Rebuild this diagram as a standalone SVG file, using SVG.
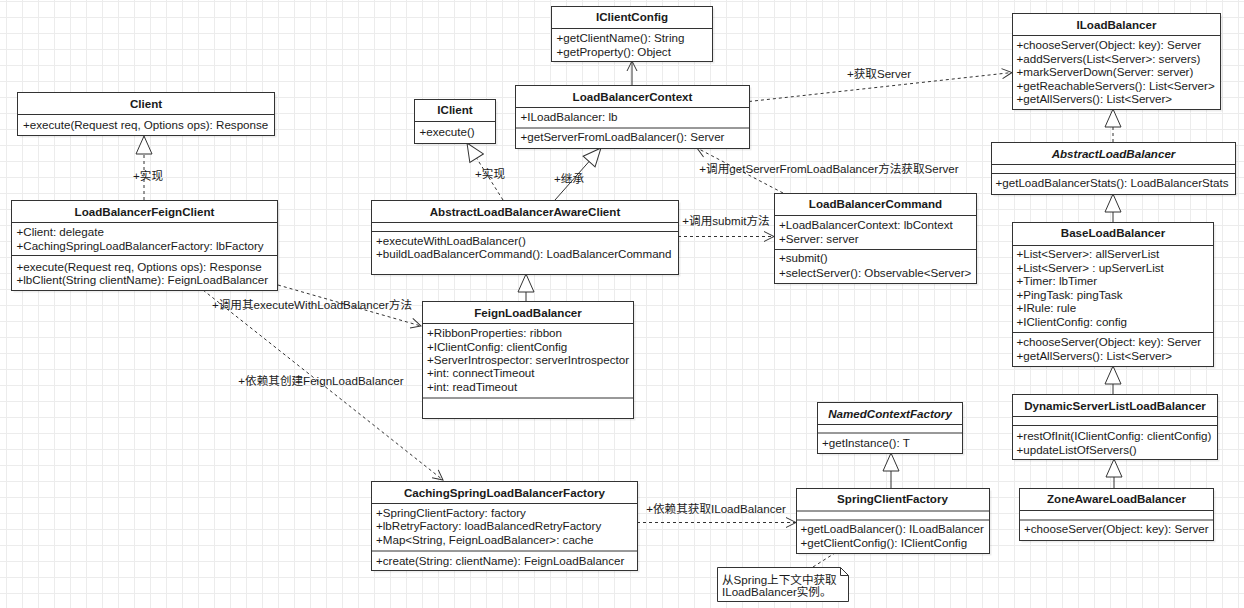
<svg xmlns="http://www.w3.org/2000/svg" width="1244" height="608" viewBox="0 0 1244 608">
<defs>
<style>
.box{fill:#fff;stroke:#333;stroke-width:1}
.sh{fill:#000;opacity:0.07}
.dv{stroke:#333;stroke-width:1}
.t{font-family:"Liberation Sans",Arial,"Noto Sans CJK SC",sans-serif;font-size:11.6px;fill:#1a1a1a}
.h{font-weight:bold;text-anchor:middle}
.i{font-style:italic}
.solid{stroke:#333;stroke-width:1;fill:none}
.dash{stroke:#333;stroke-width:1;fill:none;stroke-dasharray:3 3}
.lbl{text-anchor:middle}
</style>
<pattern id="grid" patternUnits="userSpaceOnUse" x="6" y="1" width="16" height="16">
<path d="M0.5,0 V16 M0,0.5 H16" stroke="#ececec" stroke-width="1" fill="none"/>
</pattern>
<marker id="tri" markerUnits="userSpaceOnUse" viewBox="-1 -1 20 18" refX="18" refY="8" markerWidth="20" markerHeight="18" orient="auto">
<path d="M0,0 L18,8 L0,16 Z" fill="#fff" stroke="#333" stroke-width="1"/>
</marker>
<marker id="open" markerUnits="userSpaceOnUse" viewBox="-1 -1 12 12" refX="10" refY="5" markerWidth="12" markerHeight="12" orient="auto">
<path d="M0,0 L10,5 L0,10" fill="none" stroke="#333" stroke-width="1"/>
</marker>
</defs>
<rect width="1244" height="608" fill="#fff"/>
<rect width="1244" height="608" fill="url(#grid)"/>

<g id="connectors">
<path class="dash" d="M144,200 L144,136" marker-end="url(#tri)"/>
<text class="t lbl" x="148" y="180">+实现</text>
<path class="dash" d="M503,200 L467,143" marker-end="url(#tri)"/>
<text class="t lbl" x="490" y="178">+实现</text>
<path class="solid" d="M555,200 L601,148" marker-end="url(#tri)"/>
<text class="t lbl" x="569" y="183">+继承</text>
<path class="dash" d="M278,285 L421,326" marker-end="url(#open)"/>
<text class="t lbl" x="312" y="309">+调用其executeWithLoadBalancer方法</text>
<path class="dash" d="M203,290 L443,480" marker-end="url(#open)"/>
<text class="t lbl" x="321" y="385">+依赖其创建FeignLoadBalancer</text>
<path class="solid" d="M526,301 L526,274" marker-end="url(#tri)"/>
<path class="dash" d="M678,236.5 L774,236.5" marker-end="url(#open)"/>
<text class="t lbl" x="726" y="225">+调用submit方法</text>
<path class="dash" d="M783,193 L697,148" marker-end="url(#open)"/>
<text class="t lbl" x="829" y="173">+调用getServerFromLoadBalancer方法获取Server</text>
<path class="solid" d="M632,85 L632,61" marker-end="url(#open)"/>
<path class="dash" d="M749,101.5 L1012,72.5" marker-end="url(#open)"/>
<text class="t lbl" x="879" y="78">+获取Server</text>
<path class="dash" d="M1113,142 L1113,109" marker-end="url(#tri)"/>
<path class="solid" d="M1113,222 L1113,194" marker-end="url(#tri)"/>
<path class="solid" d="M1113,394 L1113,366" marker-end="url(#tri)"/>
<path class="solid" d="M1114,488 L1114,459" marker-end="url(#tri)"/>
<path class="dash" d="M637,522.5 L796,522.5" marker-end="url(#open)"/>
<text class="t lbl" x="716" y="513">+依赖其获取ILoadBalancer</text>
<path class="solid" d="M891,488 L891,453" marker-end="url(#tri)"/>
<path class="dash" d="M813,567 L835,553"/>
</g>

<g id="Client">
<rect class="sh" x="19.5" y="94.5" width="257" height="43"/>
<rect class="box" x="17.5" y="92.5" width="257" height="43"/>
<line class="dv" x1="17.5" y1="114.5" x2="274.5" y2="114.5"/>
<text class="t h" x="146" y="107.5">Client</text>
<text class="t" x="23" y="128.5">+execute(Request req, Options ops): Response</text>
</g>

<g id="LoadBalancerFeignClient">
<rect class="sh" x="13.5" y="202.5" width="266" height="90"/>
<rect class="box" x="11.5" y="200.5" width="266" height="90"/>
<line class="dv" x1="11.5" y1="222.5" x2="277.5" y2="222.5"/>
<line class="dv" x1="11.5" y1="255.5" x2="277.5" y2="255.5"/>
<text class="t h" x="144.5" y="215.5">LoadBalancerFeignClient</text>
<text class="t" x="16.5" y="236">+Client: delegate</text>
<text class="t" x="16.5" y="249.5">+CachingSpringLoadBalancerFactory: lbFactory</text>
<text class="t" x="16.5" y="270.5">+execute(Request req, Options ops): Response</text>
<text class="t" x="16.5" y="284">+lbClient(String clientName): FeignLoadBalancer</text>
</g>

<g id="IClientConfig">
<rect class="sh" x="553.5" y="8.5" width="161" height="55"/>
<rect class="box" x="551.5" y="6.5" width="161" height="55"/>
<line class="dv" x1="551.5" y1="28.5" x2="712.5" y2="28.5"/>
<text class="t h" x="632" y="21">IClientConfig</text>
<text class="t" x="556.5" y="42.3">+getClientName(): String</text>
<text class="t" x="556.5" y="55.7">+getProperty(): Object</text>
</g>

<g id="LoadBalancerContext">
<rect class="sh" x="517.5" y="87.5" width="234" height="63"/>
<rect class="box" x="515.5" y="85.5" width="234" height="63"/>
<line class="dv" x1="515.5" y1="107.5" x2="749.5" y2="107.5"/>
<line class="dv" x1="515.5" y1="128" x2="749.5" y2="128"/>
<text class="t h" x="632.5" y="100.5">LoadBalancerContext</text>
<text class="t" x="520.5" y="121.3">+ILoadBalancer: lb</text>
<text class="t" x="520.5" y="141.3">+getServerFromLoadBalancer(): Server</text>
</g>

<g id="IClient">
<rect class="sh" x="416.5" y="101.5" width="81" height="44"/>
<rect class="box" x="414.5" y="99.5" width="81" height="44"/>
<line class="dv" x1="414.5" y1="121.5" x2="495.5" y2="121.5"/>
<text class="t h" x="455" y="114">IClient</text>
<text class="t" x="419.5" y="136.3">+execute()</text>
</g>

<g id="ILoadBalancer">
<rect class="sh" x="1014.5" y="15.5" width="208" height="96"/>
<rect class="box" x="1012.5" y="13.5" width="208" height="96"/>
<line class="dv" x1="1012.5" y1="35.5" x2="1220.5" y2="35.5"/>
<text class="t h" x="1116.5" y="28.5">ILoadBalancer</text>
<text class="t" x="1016.5" y="49">+chooseServer(Object: key): Server</text>
<text class="t" x="1016.5" y="62.5">+addServers(List&lt;Server&gt;: servers)</text>
<text class="t" x="1016.5" y="76">+markServerDown(Server: server)</text>
<text class="t" x="1016.5" y="89.5">+getReachableServers(): List&lt;Server&gt;</text>
<text class="t" x="1016.5" y="103">+getAllServers(): List&lt;Server&gt;</text>
</g>

<g id="AbstractLoadBalancer">
<rect class="sh" x="993.5" y="144.5" width="244" height="52"/>
<rect class="box" x="991.5" y="142.5" width="244" height="52"/>
<line class="dv" x1="991.5" y1="164.5" x2="1235.5" y2="164.5"/>
<line class="dv" x1="991.5" y1="173.5" x2="1235.5" y2="173.5"/>
<text class="t h i" x="1113.5" y="158">AbstractLoadBalancer</text>
<text class="t" x="995.5" y="187.3">+getLoadBalancerStats(): LoadBalancerStats</text>
</g>

<g id="AbstractLoadBalancerAwareClient">
<rect class="sh" x="373.5" y="202.5" width="307" height="74"/>
<rect class="box" x="371.5" y="200.5" width="307" height="74"/>
<line class="dv" x1="371.5" y1="222.5" x2="678.5" y2="222.5"/>
<line class="dv" x1="371.5" y1="231.5" x2="678.5" y2="231.5"/>
<text class="t h" x="525" y="215.5">AbstractLoadBalancerAwareClient</text>
<text class="t" x="376" y="244.7">+executeWithLoadBalancer()</text>
<text class="t" x="376" y="258.3">+buildLoadBalancerCommand(): LoadBalancerCommand</text>
</g>

<g id="LoadBalancerCommand">
<rect class="sh" x="776.5" y="195.5" width="202" height="90"/>
<rect class="box" x="774.5" y="193.5" width="202" height="90"/>
<line class="dv" x1="774.5" y1="215.5" x2="976.5" y2="215.5"/>
<line class="dv" x1="774.5" y1="249.5" x2="976.5" y2="249.5"/>
<text class="t h" x="875.5" y="208">LoadBalancerCommand</text>
<text class="t" x="779" y="229">+LoadBalancerContext: lbContext</text>
<text class="t" x="779" y="242.7">+Server: server</text>
<text class="t" x="779" y="262.3">+submit()</text>
<text class="t" x="779" y="276.7">+selectServer(): Observable&lt;Server&gt;</text>
</g>

<g id="BaseLoadBalancer">
<rect class="sh" x="1014.5" y="224.5" width="201" height="144"/>
<rect class="box" x="1012.5" y="222.5" width="201" height="144"/>
<line class="dv" x1="1012.5" y1="245.5" x2="1213.5" y2="245.5"/>
<line class="dv" x1="1012.5" y1="332.5" x2="1213.5" y2="332.5"/>
<text class="t h" x="1113" y="237.3">BaseLoadBalancer</text>
<text class="t" x="1016.5" y="258">+List&lt;Server&gt;: allServerList</text>
<text class="t" x="1016.5" y="271.5">+List&lt;Server&gt; : upServerList</text>
<text class="t" x="1016.5" y="285">+Timer: lbTimer</text>
<text class="t" x="1016.5" y="298.5">+PingTask: pingTask</text>
<text class="t" x="1016.5" y="312">+IRule: rule</text>
<text class="t" x="1016.5" y="325.5">+IClientConfig: config</text>
<text class="t" x="1016.5" y="346.3">+chooseServer(Object: key): Server</text>
<text class="t" x="1016.5" y="359.7">+getAllServers(): List&lt;Server&gt;</text>
</g>

<g id="DynamicServerListLoadBalancer">
<rect class="sh" x="1014.5" y="396.5" width="205" height="65"/>
<rect class="box" x="1012.5" y="394.5" width="205" height="65"/>
<line class="dv" x1="1012.5" y1="416.5" x2="1217.5" y2="416.5"/>
<line class="dv" x1="1012.5" y1="425.5" x2="1217.5" y2="425.5"/>
<text class="t h" x="1115" y="410">DynamicServerListLoadBalancer</text>
<text class="t" x="1016.5" y="440">+restOfInit(IClientConfig: clientConfig)</text>
<text class="t" x="1016.5" y="454">+updateListOfServers()</text>
</g>

<g id="ZoneAwareLoadBalancer">
<rect class="sh" x="1021.5" y="490.5" width="194" height="52"/>
<rect class="box" x="1019.5" y="488.5" width="194" height="52"/>
<line class="dv" x1="1019.5" y1="510.5" x2="1213.5" y2="510.5"/>
<line class="dv" x1="1019.5" y1="520" x2="1213.5" y2="520"/>
<text class="t h" x="1116.5" y="503">ZoneAwareLoadBalancer</text>
<text class="t" x="1024" y="533">+chooseServer(Object: key): Server</text>
</g>

<g id="FeignLoadBalancer">
<rect class="sh" x="424.5" y="303.5" width="211" height="117"/>
<rect class="box" x="422.5" y="301.5" width="211" height="117"/>
<line class="dv" x1="422.5" y1="323.5" x2="633.5" y2="323.5"/>
<line class="dv" x1="422.5" y1="398" x2="633.5" y2="398"/>
<text class="t h" x="528" y="316.5">FeignLoadBalancer</text>
<text class="t" x="427" y="337.3">+RibbonProperties: ribbon</text>
<text class="t" x="427" y="350.7">+IClientConfig: clientConfig</text>
<text class="t" x="427" y="364">+ServerIntrospector: serverIntrospector</text>
<text class="t" x="427" y="377.3">+int: connectTimeout</text>
<text class="t" x="427" y="391">+int: readTimeout</text>
</g>

<g id="CachingSpringLoadBalancerFactory">
<rect class="sh" x="373.5" y="483.5" width="266" height="89"/>
<rect class="box" x="371.5" y="481.5" width="266" height="89"/>
<line class="dv" x1="371.5" y1="503.5" x2="637.5" y2="503.5"/>
<line class="dv" x1="371.5" y1="551" x2="637.5" y2="551"/>
<text class="t h" x="504.5" y="496.5">CachingSpringLoadBalancerFactory</text>
<text class="t" x="376" y="516.7">+SpringClientFactory: factory</text>
<text class="t" x="376" y="530.3">+lbRetryFactory: loadBalancedRetryFactory</text>
<text class="t" x="376" y="544">+Map&lt;String, FeignLoadBalancer&gt;: cache</text>
<text class="t" x="376" y="564.7">+create(String: clientName): FeignLoadBalancer</text>
</g>

<g id="NamedContextFactory">
<rect class="sh" x="819.5" y="404.5" width="145" height="51"/>
<rect class="box" x="817.5" y="402.5" width="145" height="51"/>
<line class="dv" x1="817.5" y1="424.5" x2="962.5" y2="424.5"/>
<line class="dv" x1="817.5" y1="433" x2="962.5" y2="433"/>
<text class="t h i" x="890" y="417.5">NamedContextFactory</text>
<text class="t" x="822" y="446.7">+getInstance(): T</text>
</g>

<g id="SpringClientFactory">
<rect class="sh" x="798.5" y="490.5" width="193" height="65"/>
<rect class="box" x="796.5" y="488.5" width="193" height="65"/>
<line class="dv" x1="796.5" y1="511" x2="989.5" y2="511"/>
<line class="dv" x1="796.5" y1="520" x2="989.5" y2="520"/>
<text class="t h" x="892.5" y="503.3">SpringClientFactory</text>
<text class="t" x="800.5" y="533.3">+getLoadBalancer(): ILoadBalancer</text>
<text class="t" x="800.5" y="546.7">+getClientConfig(): IClientConfig</text>
</g>

<g id="Note">
<path class="box" d="M717.5,567.5 L840.5,567.5 L848.5,575.5 L848.5,601.5 L717.5,601.5 Z"/>
<path class="solid" d="M840.5,567.5 L840.5,575.5 L848.5,575.5"/>
<text class="t" x="722" y="584">从Spring上下文中获取</text>
<text class="t" x="722" y="596">ILoadBalancer实例。</text>
</g>
</svg>
